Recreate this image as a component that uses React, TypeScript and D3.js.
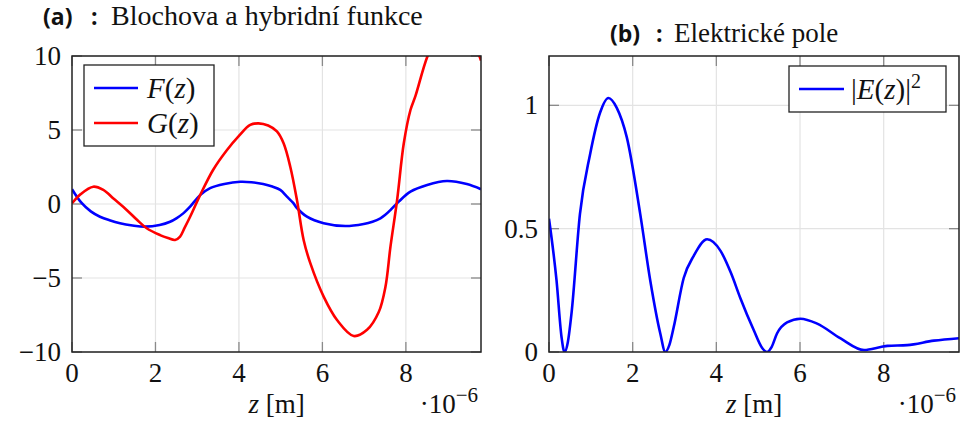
import React from 'react';
import * as d3 from 'd3';

// ---- data ----
const zTicks = [0, 2, 4, 6, 8];
const aYTicks = [-10, -5, 0, 5, 10];
const bYTicks = [0, 0.5, 1];
const bYTickLabels = ['0', '0.5', '1'];

const zF = [0, 0.23, 0.45, 0.67, 0.9, 1.15, 1.45, 1.75, 2.1, 2.35, 2.51, 2.68, 2.83, 3.07, 3.31, 3.65, 4.03, 4.3, 4.58, 4.8, 4.99, 5.15, 5.3, 5.39, 5.63, 6.03, 6.55, 6.99, 7.2, 7.39, 7.5, 7.63, 7.83, 8.11, 8.51, 8.98, 9.46, 9.8];
const valF = [1.0, 0.07, -0.5, -0.86, -1.1, -1.3, -1.45, -1.53, -1.42, -1.2, -0.95, -0.6, -0.18, 0.6, 1.07, 1.35, 1.5, 1.47, 1.35, 1.18, 0.95, 0.5, 0.07, -0.27, -0.86, -1.3, -1.49, -1.35, -1.2, -0.97, -0.75, -0.41, 0.16, 0.83, 1.28, 1.55, 1.35, 1.0];

const zG = [0, 0.2, 0.51, 0.75, 1.0, 1.31, 1.55, 1.79, 2.11, 2.3, 2.47, 2.59, 2.7, 2.83, 3.07, 3.38, 3.7, 4.0, 4.27, 4.47, 4.7, 4.91, 5.07, 5.23, 5.39, 5.55, 5.71, 6.03, 6.35, 6.75, 7.07, 7.35, 7.51, 7.63, 7.79, 7.95, 8.11, 8.23, 8.52, 8.8, 9.2, 9.5, 9.8];
const valG = [0.05, 0.65, 1.17, 0.95, 0.35, -0.4, -1.05, -1.64, -2.1, -2.3, -2.43, -2.2, -1.6, -0.86, 0.6, 2.3, 3.6, 4.6, 5.34, 5.45, 5.3, 4.9, 4.1, 2.52, 0.27, -2.43, -4.0, -6.26, -7.84, -8.92, -8.5, -7.3, -5.6, -2.9, 0.27, 4.1, 6.35, 7.3, 10.0, 11.6, 12.4, 11.6, 9.7];

const zE = [0, 0.18, 0.3, 0.37, 0.45, 0.54, 0.74, 0.98, 1.22, 1.42, 1.62, 1.86, 2.18, 2.42, 2.66, 2.78, 2.88, 2.98, 3.22, 3.46, 3.78, 4.1, 4.35, 4.57, 4.89, 5.1, 5.21, 5.32, 5.45, 5.69, 6.01, 6.41, 6.97, 7.53, 7.93, 8.09, 8.56, 9.2, 9.8];
const valE = [0.54, 0.29, 0.06, 0, 0.04, 0.16, 0.56, 0.8, 0.97, 1.03, 0.99, 0.87, 0.56, 0.29, 0.075, 0, 0.03, 0.1, 0.3, 0.39, 0.457, 0.41, 0.32, 0.22, 0.09, 0.015, 0, 0.02, 0.075, 0.12, 0.135, 0.115, 0.055, 0.008, 0.02, 0.025, 0.028, 0.046, 0.056];

const SERIF = 'Liberation Serif';
const SANS = 'Open Sans';
const FS = 27;

type Pt = [number, number];

function Panel(props: {
  id: string;
  x0: number; x1: number; y0: number; y1: number;
  yDomain: [number, number];
  yTicks: number[];
  yLabels: string[];
  series: { z: number[]; v: number[]; color: string }[];
  curve: any;
}) {
  const { id, x0, x1, y0, y1, yDomain, yTicks, yLabels, series, curve } = props;
  const x = d3.scaleLinear().domain([0, 9.8]).range([x0, x1]);
  const y = d3.scaleLinear().domain(yDomain).range([y1, y0]);
  const line = d3.line<Pt>().x(d => x(d[0])).y(d => y(d[1])).curve(curve);
  const tickLen = 10;
  const tickCol = '#8a8a8a';
  const gridCol = '#e3e3e3';
  return (
    <g>
      <defs>
        <clipPath id={id}>
          <rect x={x0} y={y0} width={x1 - x0} height={y1 - y0} />
        </clipPath>
      </defs>
      {zTicks.slice(1).map(t => (
        <line key={'gx' + t} x1={x(t)} x2={x(t)} y1={y0} y2={y1} stroke={gridCol} strokeWidth={1.2} />
      ))}
      {yTicks.map(t => (
        <line key={'gy' + t} x1={x0} x2={x1} y1={y(t)} y2={y(t)} stroke={gridCol} strokeWidth={1.2} />
      ))}
      {zTicks.map(t => (
        <g key={'tx' + t}>
          <line x1={x(t)} x2={x(t)} y1={y1} y2={y1 - tickLen} stroke={tickCol} strokeWidth={1.3} />
          <line x1={x(t)} x2={x(t)} y1={y0} y2={y0 + tickLen} stroke={tickCol} strokeWidth={1.3} />
          <text x={x(t)} y={y1 + 30} textAnchor="middle" fontFamily={SERIF} fontSize={FS} fill="#111">{t}</text>
        </g>
      ))}
      {yTicks.map((t, i) => (
        <g key={'ty' + t}>
          <line x1={x0} x2={x0 + tickLen} y1={y(t)} y2={y(t)} stroke={tickCol} strokeWidth={1.3} />
          <line x1={x1} x2={x1 - tickLen} y1={y(t)} y2={y(t)} stroke={tickCol} strokeWidth={1.3} />
          <text x={x0 - 11} y={y(t) + 9} textAnchor="end" fontFamily={SERIF} fontSize={FS} fill="#111">{yLabels[i]}</text>
        </g>
      ))}
      <g clipPath={`url(#${id})`}>
        {series.map((s, i) => (
          <path key={i} d={line(s.z.map((z, k) => [z, s.v[k]] as Pt)) || ''} fill="none" stroke={s.color} strokeWidth={2.6} strokeLinejoin="round" />
        ))}
      </g>
      <rect x={x0} y={y0} width={x1 - x0} height={y1 - y0} fill="none" stroke="#222" strokeWidth={1.5} />
      <text x={(x0 + x1) / 2} y={413} textAnchor="middle" fontFamily={SERIF} fontSize={FS} fill="#111">
        <tspan fontStyle="italic">z</tspan> [m]
      </text>
      <text x={x1 - 3} y={413} textAnchor="end" fontFamily={SERIF} fontSize={FS} fill="#111">
        ·10<tspan dy={-11} fontSize={21}>−6</tspan>
      </text>
    </g>
  );
}

export default function App() {
  return (
    <svg width={963} height={437} style={{ position: 'absolute', left: 0, top: 0 }}>
      {/* titles */}
      <text x={43} y={25} fontFamily={SANS} fontWeight="bold" fontSize={23} fill="#111">(a)</text>
      <text x={91} y={25} fontFamily={SANS} fontWeight="bold" fontSize={23} fill="#111">:</text>
      <text x={111} y={25} fontFamily={SERIF} fontSize={28} fill="#111">Blochova a hybridní funkce</text>
      <text x={610} y={42} fontFamily={SANS} fontWeight="bold" fontSize={23} fill="#111">(b)</text>
      <text x={656} y={42} fontFamily={SANS} fontWeight="bold" fontSize={23} fill="#111">:</text>
      <text x={674} y={42} fontFamily={SERIF} fontSize={27} fill="#111">Elektrické pole</text>

      <Panel id="clipA" x0={72} x1={481} y0={56} y1={352} yDomain={[-10, 10]}
        yTicks={aYTicks} yLabels={aYTicks.map(t => (t < 0 ? '−' + Math.abs(t) : String(t)))}
        series={[{ z: zF, v: valF, color: '#0000ff' }, { z: zG, v: valG, color: '#ff0000' }]}
        curve={d3.curveCatmullRom.alpha(0.5)} />
      <Panel id="clipB" x0={549} x1={959} y0={56} y1={352} yDomain={[0, 1.2]}
        yTicks={bYTicks} yLabels={bYTickLabels}
        series={[{ z: zE, v: valE, color: '#0000ff' }]}
        curve={d3.curveMonotoneX} />

      {/* legend a */}
      <rect x={84} y={65} width={130} height={81} fill="#fff" stroke="#222" strokeWidth={1.3} />
      <line x1={94} x2={138} y1={88} y2={88} stroke="#0000ff" strokeWidth={2.6} />
      <text x={147} y={98} fontFamily={SERIF} fontSize={29} fill="#111">
        <tspan fontStyle="italic">F</tspan>(<tspan fontStyle="italic">z</tspan>)
      </text>
      <line x1={94} x2={138} y1={123} y2={123} stroke="#ff0000" strokeWidth={2.6} />
      <text x={147} y={133} fontFamily={SERIF} fontSize={29} fill="#111">
        <tspan fontStyle="italic">G</tspan>(<tspan fontStyle="italic">z</tspan>)
      </text>

      {/* legend b */}
      <rect x={789} y={66} width={157} height={46} fill="#fff" stroke="#222" strokeWidth={1.3} />
      <line x1={799} x2={844} y1={89} y2={89} stroke="#0000ff" strokeWidth={2.6} />
      <text x={851} y={99} fontFamily={SERIF} fontSize={29} fill="#111">
        |<tspan fontStyle="italic">E</tspan>(<tspan fontStyle="italic">z</tspan>)|<tspan dy={-11} fontSize={20}>2</tspan>
      </text>
    </svg>
  );
}
